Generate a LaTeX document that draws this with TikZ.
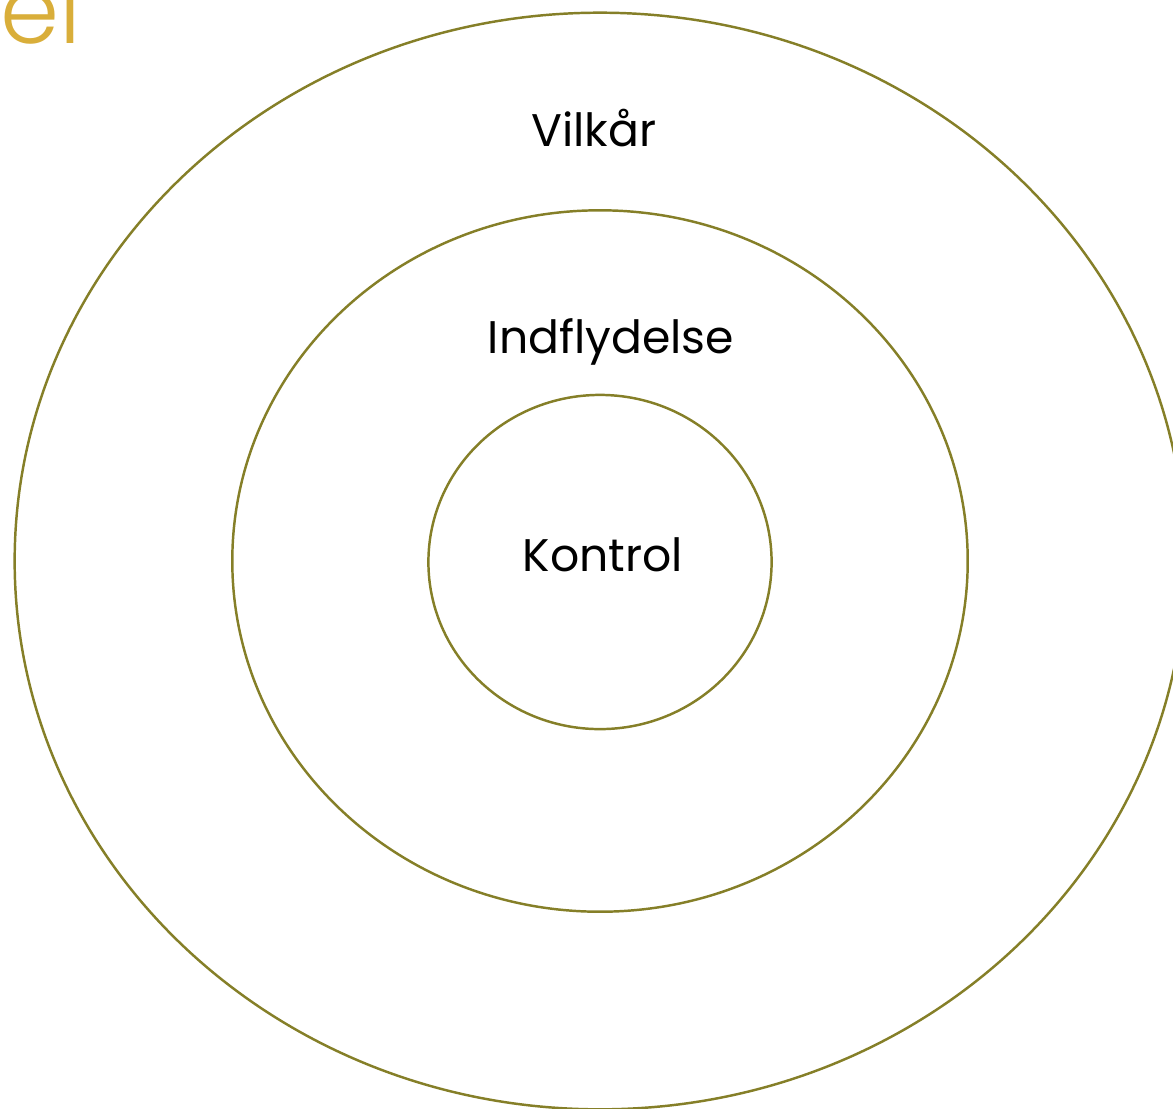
\documentclass[tikz,border=0pt]{standalone}
\usepackage{fontspec}
\setmainfont{Poppins}
\newfontfamily\titlefont{Poppins Light}
\usetikzlibrary{shapes.geometric}
\definecolor{ringolive}{HTML}{857F28}
\definecolor{titlegold}{HTML}{D9AE3A}
\tikzset{
    ring/.style={ellipse,draw=ringolive,line width=0.7pt,inner sep=0pt},
    ringtext/.style={anchor=base,text=black,font=\fontsize{13}{16}\selectfont},
    titletext/.style={anchor=base west,text=titlegold,font=\titlefont\fontsize{27}{32}\selectfont},
}

\begin{document}
\begin{tikzpicture}[x=0.01cm,y=-0.01cm]
    \useasboundingbox (0,0) rectangle (1173,1108);
    \node[ring,minimum width=11.70cm,minimum height=10.96cm] (outer) at (600,561) {};
    \node[ring,minimum width=7.35cm,minimum height=7.01cm] (middle) at (600,561) {};
    \node[ring,minimum width=3.43cm,minimum height=3.34cm] (inner) at (600,562) {};

    \node[ringtext] (vilkar) at (594,146) {Vilkår};
    \node[ringtext] (indfly) at (611,353) {Indflydelse};
    \node[ringtext] (kontrol) at (603,571) {Kontrol};

    \node[titletext] (title) at (-12,43) {el};
\end{tikzpicture}
\end{document}
